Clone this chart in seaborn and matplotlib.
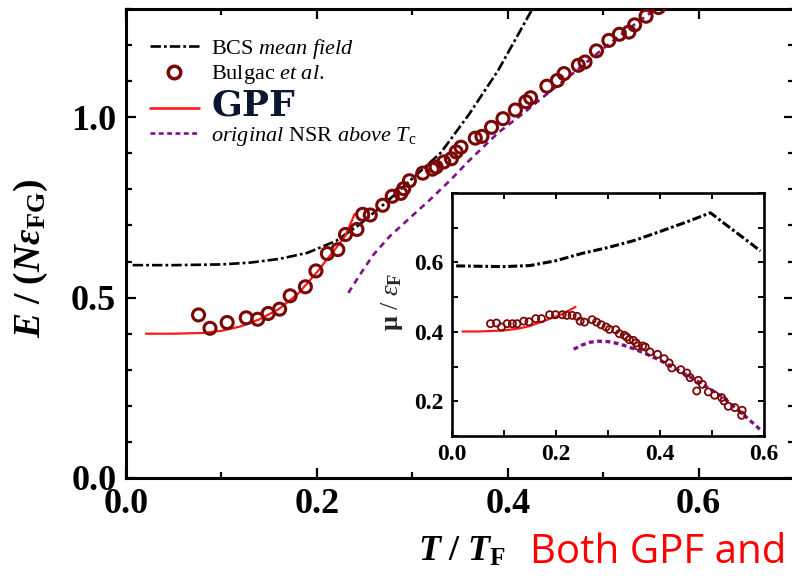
import numpy as np
import pandas as pd
import matplotlib
matplotlib.use("Agg")
import matplotlib.pyplot as plt
from matplotlib.lines import Line2D
from matplotlib.ticker import MultipleLocator
import seaborn as sns

# ---------------- main panel data ----------------
bcs_T = [0.007, 0.05, 0.10, 0.13, 0.16, 0.19, 0.22, 0.245, 0.27, 0.30, 0.33, 0.36, 0.39, 0.43]
bcs_E = [0.590, 0.590, 0.592, 0.597, 0.607, 0.624, 0.657, 0.703, 0.758, 0.830, 0.902, 1.010, 1.13, 1.32]

gpf_T = [0.02, 0.05, 0.08, 0.10, 0.12, 0.14, 0.16, 0.18, 0.20, 0.21, 0.22, 0.23, 0.24]
gpf_E = [0.400, 0.400, 0.402, 0.408, 0.420, 0.440, 0.468, 0.510, 0.570, 0.604, 0.637, 0.672, 0.734]

nsr_T = [0.233, 0.245, 0.259, 0.276, 0.30, 0.318, 0.34, 0.36, 0.39, 0.414, 0.44, 0.468, 0.50, 0.524, 0.55, 0.56]
nsr_E = [0.513, 0.563, 0.618, 0.669, 0.727, 0.770, 0.826, 0.881, 0.957, 1.006, 1.062, 1.121, 1.190, 1.240, 1.29, 1.31]

bulgac_T = [0.076, 0.088, 0.106, 0.126, 0.138, 0.149, 0.161, 0.172, 0.188, 0.199,
            0.211, 0.222, 0.230, 0.242, 0.248, 0.256, 0.269, 0.279, 0.288, 0.291,
            0.297, 0.311, 0.321, 0.325, 0.333, 0.341, 0.346, 0.351, 0.366, 0.373,
            0.383, 0.395, 0.408, 0.419, 0.424, 0.441, 0.452, 0.459, 0.474, 0.481,
            0.493, 0.506, 0.517, 0.527, 0.533, 0.545, 0.558]
bulgac_E = [0.452, 0.415, 0.431, 0.444, 0.440, 0.456, 0.468, 0.505, 0.530, 0.574,
            0.622, 0.633, 0.675, 0.689, 0.731, 0.729, 0.756, 0.781, 0.789, 0.802,
            0.824, 0.845, 0.856, 0.862, 0.876, 0.885, 0.904, 0.917, 0.942, 0.947,
            0.972, 0.996, 1.020, 1.043, 1.054, 1.086, 1.102, 1.121, 1.144, 1.153,
            1.184, 1.213, 1.230, 1.236, 1.256, 1.280, 1.304]

# ---------------- inset data ----------------
ibcs_T = [0.008, 0.05, 0.10, 0.15, 0.20, 0.25, 0.30, 0.35, 0.40, 0.45, 0.497, 0.53, 0.57, 0.593]
ibcs_mu = [0.590, 0.589, 0.588, 0.591, 0.605, 0.626, 0.643, 0.663, 0.689, 0.716, 0.743, 0.705, 0.66, 0.633]

igpf_T = [0.0185, 0.05, 0.10, 0.13, 0.15, 0.18, 0.21, 0.239]
igpf_mu = [0.401, 0.401, 0.404, 0.410, 0.417, 0.433, 0.450, 0.473]

insr_T = [0.234, 0.25, 0.265, 0.28, 0.30, 0.32, 0.341, 0.373, 0.40, 0.424, 0.45, 0.469, 0.50, 0.52, 0.558, 0.593]
insr_mu = [0.350, 0.362, 0.370, 0.373, 0.372, 0.366, 0.356, 0.337, 0.318, 0.299, 0.277, 0.260, 0.232, 0.212, 0.165, 0.118]

ibul_T = [0.074, 0.0856, 0.0951, 0.106, 0.1162, 0.125, 0.138, 0.148, 0.161, 0.172,
          0.1877, 0.199, 0.212, 0.221, 0.231, 0.2407, 0.2465, 0.2548, 0.2695, 0.278,
          0.2867, 0.2963, 0.3027, 0.315, 0.3218, 0.3314, 0.336, 0.341, 0.3487, 0.354,
          0.357, 0.3665, 0.3716, 0.3806, 0.3953, 0.408, 0.4176, 0.4227, 0.44, 0.4515,
          0.4579, 0.4738, 0.4706, 0.4815, 0.493, 0.505, 0.5185, 0.523, 0.5313, 0.544,
          0.558, 0.557]
ibul_mu = [0.4235, 0.4254, 0.414, 0.4235, 0.4235, 0.4235, 0.431, 0.429, 0.438, 0.438,
           0.4494, 0.4494, 0.4494, 0.4475, 0.4475, 0.4446, 0.431, 0.428, 0.435, 0.428,
           0.4206, 0.414, 0.4072, 0.406, 0.3947, 0.39, 0.385, 0.3775, 0.3755, 0.368,
           0.3593, 0.3593, 0.3564, 0.342, 0.3353, 0.3228, 0.3103, 0.296, 0.291, 0.2815,
           0.2681, 0.2604, 0.2297, 0.2489, 0.2269, 0.2173, 0.2106, 0.201, 0.1856, 0.1818,
           0.1741, 0.1597]

main_xticks = [0.0, 0.2, 0.4, 0.6]
main_yticks = [0.0, 0.5, 1.0]
inset_xticks = [0.0, 0.2, 0.4, 0.6]
inset_yticks = [0.2, 0.4, 0.6]

# ---------------- style ----------------
sns.set_theme(style="ticks")
plt.rcParams.update({
    "font.family": ["Liberation Serif", "DejaVu Serif"],
    "mathtext.fontset": "custom",
    "mathtext.rm": "Liberation Serif",
    "mathtext.it": "Liberation Serif:italic",
    "mathtext.bf": "Liberation Serif:bold",
    "mathtext.bfit": "Liberation Serif:italic:bold",
    "lines.scale_dashes": False,
    "axes.edgecolor": "black",
    "xtick.color": "black",
    "ytick.color": "black",
    "text.color": "black",
})

C_BUL = "#7a0606"
C_GPF = "#ff1a1a"
C_NSR = "#80108a"
C_BCS = "black"

fig = plt.figure(figsize=(7.92, 5.81), dpi=100)
ax = fig.add_axes([126 / 792, 1 - 478 / 581, 668 / 792, 469 / 581])


def line(axx, x, y, color, lw, dashes=None):
    df = pd.DataFrame({"x": x, "y": y})
    sns.lineplot(data=df, x="x", y="y", ax=axx, color=color, linewidth=lw,
                 estimator=None, sort=False, legend=False)
    ln = axx.lines[-1]
    if dashes is not None:
        ln.set_dashes(dashes)
    ln.set_solid_capstyle("butt")
    ln.set_dash_capstyle("butt")
    return ln


line(ax, bcs_T, bcs_E, C_BCS, 1.9, (7.5, 2.2, 2.0, 2.2))
line(ax, nsr_T, nsr_E, C_NSR, 1.9, (4.5, 3.5))
line(ax, gpf_T, gpf_E, C_GPF, 1.6)
sns.scatterplot(x=bulgac_T, y=bulgac_E, ax=ax, marker="o", s=75,
                facecolor="none", edgecolor=C_BUL, linewidth=2.2, legend=False,
                zorder=5, clip_on=True)

ax.set_xlim(0, 0.7)
ax.set_ylim(0, 1.3)
ax.set_xticks(main_xticks)
ax.set_xticklabels([f"{v:.1f}" for v in main_xticks])
ax.set_yticks(main_yticks)
ax.set_yticklabels([f"{v:.1f}" for v in main_yticks])
ax.xaxis.set_minor_locator(MultipleLocator(0.1))
ax.yaxis.set_minor_locator(MultipleLocator(0.1))
ax.tick_params(which="both", direction="in", top=True, right=True, width=1.6, colors="black")
ax.tick_params(which="major", length=7.5, labelsize=26, pad=7)
ax.tick_params(which="minor", length=4.5)
for lab in ax.get_xticklabels() + ax.get_yticklabels():
    lab.set_fontweight("bold")
for sp in ax.spines.values():
    sp.set_linewidth(2.2)
    sp.set_color("black")
ax.set_xlabel("")
ax.set_ylabel("")

# axis titles
fig.text(462 / 792, 1 - 552 / 581, r"$\mathbfit{T}\ \mathbf{/}\ \mathbfit{T}_{\mathbf{F}}$",
         fontsize=26, ha="center", va="center")
fig.text(31 / 792, 1 - 258 / 581,
         r"$\mathbfit{E}\ \mathbf{/}\ \mathbf{(}\mathbfit{N\varepsilon}_{\mathbf{FG}}\mathbf{)}$",
         fontsize=27, ha="center", va="center", rotation=90)
fig.text(530 / 792, 1 - 553 / 581, "Both GPF and", color="#ff0000",
         fontsize=29, family=["Open Sans", "DejaVu Sans"], ha="left", va="center")

# legend
handles = [
    Line2D([], [], color=C_BCS, lw=1.9, dashes=(7.5, 2.2, 2.0, 2.2)),
    Line2D([], [], ls="none", marker="o", ms=9, mfc="none", mec=C_BUL, mew=2.5),
    Line2D([], [], color=C_GPF, lw=1.9),
    Line2D([], [], color=C_NSR, lw=1.9, dashes=(3.5, 2.5)),
]
labels = [
    r"BCS $\mathit{mean\ field}$",
    r"Bulgac $\mathit{et\ al}$.",
    "GPF",
    r"$\mathit{original}$ NSR $\mathit{above}$ $\mathit{T}_{\rm c}$",
]
leg = ax.legend(handles, labels, loc="upper left", bbox_to_anchor=(0.036, 0.94),
                frameon=False, fontsize=16, handlelength=2.2, handletextpad=0.55,
                labelspacing=0.1, borderpad=0, borderaxespad=0)
gtxt = leg.get_texts()[2]
gtxt.set_fontsize(26)
gtxt.set_fontweight("bold")
gtxt.set_family(["DejaVu Serif"])
gtxt.set_color("#0b1630")

# ---------------- inset ----------------
axi = fig.add_axes([452 / 792, 1 - 436 / 581, 312 / 792, 243 / 581])
line(axi, ibcs_T, ibcs_mu, C_BCS, 2.2, (6.5, 2.0, 2.0, 2.0))
line(axi, insr_T, insr_mu, C_NSR, 2.4, (3.5, 2.5))
line(axi, igpf_T, igpf_mu, C_GPF, 1.6)
sns.scatterplot(x=ibul_T, y=ibul_mu, ax=axi, marker="o", s=26,
                facecolor="none", edgecolor=C_BUL, linewidth=1.3, legend=False, zorder=5)
axi.set_xlim(0, 0.6)
axi.set_ylim(0.1, 0.8)
axi.set_xticks(inset_xticks)
axi.set_xticklabels([f"{v:.1f}" for v in inset_xticks])
axi.set_yticks(inset_yticks)
axi.set_yticklabels([f"{v:.1f}" for v in inset_yticks])
axi.xaxis.set_minor_locator(MultipleLocator(0.1))
axi.yaxis.set_minor_locator(MultipleLocator(0.1))
axi.tick_params(which="both", direction="in", top=True, right=True, width=1.4,
                length=4.5, colors="black")
axi.tick_params(which="major", labelsize=17, pad=6)
for lab in axi.get_xticklabels() + axi.get_yticklabels():
    lab.set_fontweight("bold")
for sp in axi.spines.values():
    sp.set_linewidth(1.9)
    sp.set_color("black")
axi.set_xlabel("")
axi.set_ylabel(r"$\mathbf{\mu}$ / $\mathit{\varepsilon}_{\mathbf{F}}$", fontsize=19)
axi.yaxis.set_label_coords(-0.15, 0.55)

fig.savefig("out.png", dpi=100)
